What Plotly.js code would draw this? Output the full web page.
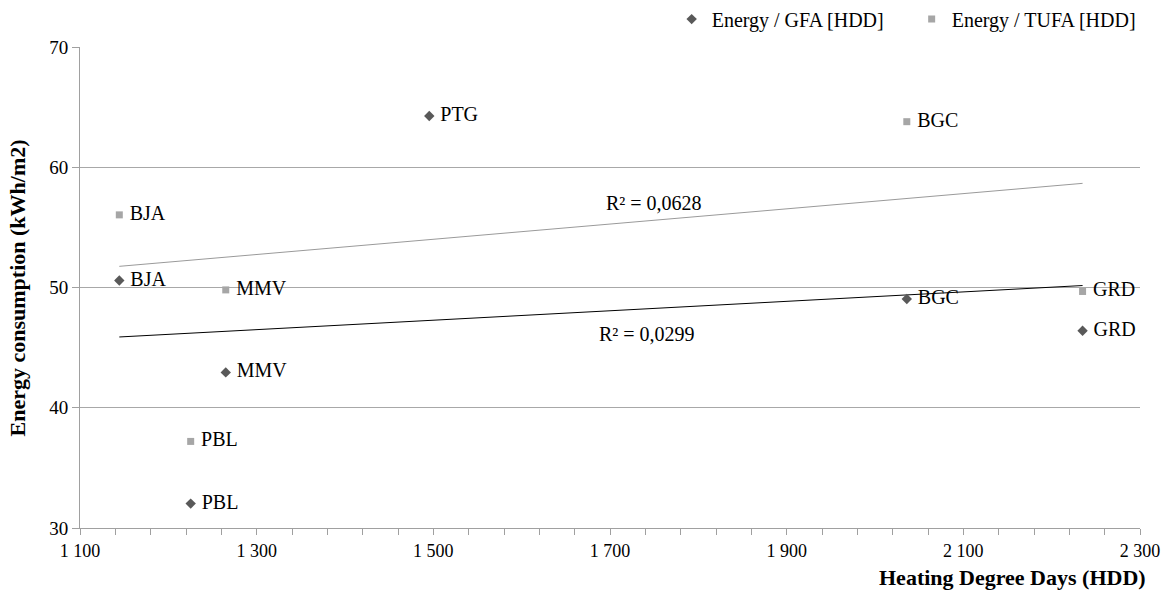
<!DOCTYPE html>
<html>
<head>
<meta charset="utf-8">
<script src="https://cdn.plot.ly/plotly-3.0.1.min.js"></script>
<style>html,body{margin:0;padding:0;background:#fff;}#chart{width:1174px;height:595px;}</style>
</head>
<body>
<div id="chart"></div>
<script>
// ---- data ----
var sites = ["BJA", "PBL", "MMV", "PTG", "BGC", "GRD"];
var hdd = [1144.5, 1225.3, 1265, 1495.4, 2036, 2235];
var energyGFA = [50.58, 32.03, 42.94, 64.26, 49.04, 46.4];
var energyTUFA = [56.04, 37.2, 49.8, 70.1, 63.79, 49.67]; // PTG lies above the axis maximum (hidden)
var r2Labels = ["R² = 0,0299", "R² = 0,0628"];
var yMin = 30, yMax = 70;

function linfit(x, y) {
  var n = x.length, mx = 0, my = 0;
  for (var i = 0; i < n; i++) { mx += x[i]; my += y[i]; }
  mx /= n; my /= n;
  var sxy = 0, sxx = 0;
  for (var j = 0; j < n; j++) { sxy += (x[j]-mx)*(y[j]-my); sxx += (x[j]-mx)*(x[j]-mx); }
  var b = sxy / sxx, a = my - b*mx;
  var x0 = Math.min.apply(null, x), x1 = Math.max.apply(null, x);
  return {x: [x0, x1], y: [a + b*x0, a + b*x1]};
}
function visible(x, y, t) {
  var o = {x: [], y: [], t: []};
  for (var i = 0; i < x.length; i++) {
    if (y[i] >= yMin && y[i] <= yMax) { o.x.push(x[i]); o.y.push(y[i]); o.t.push(t[i]); }
  }
  return o;
}

var fitG = linfit(hdd, energyGFA);
var fitT = linfit(hdd, energyTUFA);
var visG = visible(hdd, energyGFA, sites);
var visT = visible(hdd, energyTUFA, sites);

var FONT = "Liberation Serif";
var cG = "#595959", cT = "#a6a6a6";

var traces = [
  {x: fitG.x, y: fitG.y, mode: "lines", line: {color: "#000000", width: 1}, showlegend: false, hoverinfo: "skip"},
  {x: fitT.x, y: fitT.y, mode: "lines", line: {color: "#9a9a9a", width: 1}, showlegend: false, hoverinfo: "skip"},
  {x: visG.x, y: visG.y, text: visG.t, texttemplate: "\u00a0%{text}", mode: "markers+text", name: "Energy / GFA [HDD]",
   marker: {symbol: "diamond", size: 8, color: cG}, textposition: "middle right",
   textfont: {family: FONT, size: 20, color: "#000"}, cliponaxis: true},
  {x: visT.x, y: visT.y, text: visT.t, texttemplate: "\u00a0%{text}", mode: "markers+text", name: "Energy / TUFA [HDD]",
   marker: {symbol: "square", size: 7, color: cT}, textposition: "middle right",
   textfont: {family: FONT, size: 20, color: "#000"}, cliponaxis: true}
];

var layout = {
  width: 1174, height: 595,
  margin: {l: 80, r: 34, t: 47, b: 66.5, autoexpand: false},
  paper_bgcolor: "#fff", plot_bgcolor: "#fff",
  separators: ", ",
  font: {family: FONT, size: 18, color: "#000"},
  showlegend: true,
  legend: {orientation: "h", x: 1.011, xanchor: "right", y: 1.058, yanchor: "middle",
           entrywidth: 195, entrywidthmode: "pixels",
           font: {family: FONT, size: 20, color: "#000"}, itemwidth: 30, bgcolor: "rgba(0,0,0,0)"},
  xaxis: {range: [1100, 2300], tick0: 1100, dtick: 200, tickformat: ",d",
          showgrid: false, zeroline: false, showline: true, linecolor: "#a0a0a0", linewidth: 1,
          ticks: "outside", ticklen: 6, tickcolor: "#a0a0a0",
          minor: {dtick: 40, tick0: 1100, ticks: "outside", ticklen: 6, tickcolor: "#a0a0a0", showgrid: false},
          tickfont: {family: FONT, size: 18, color: "#000"}, fixedrange: true, automargin: false},
  yaxis: {range: [yMin, yMax], tick0: 30, dtick: 10,
          showgrid: true, gridcolor: "#a8a8a8", gridwidth: 1, zeroline: false,
          showline: true, linecolor: "#a0a0a0", linewidth: 1,
          ticks: "outside", ticklen: 7, tickcolor: "#a0a0a0",
          tickfont: {family: FONT, size: 19, color: "#000"}, fixedrange: true, automargin: false},
  annotations: [
    {x: 1742, y: 46.15, xref: "x", yref: "y", text: r2Labels[0], showarrow: false,
     font: {family: FONT, size: 20, color: "#000"}},
    {x: 1750, y: 57.06, xref: "x", yref: "y", text: r2Labels[1], showarrow: false,
     font: {family: FONT, size: 20, color: "#000"}},
    {x: 1.008, xref: "paper", xanchor: "right", y: -0.103, yref: "paper", yanchor: "middle",
     text: "<b>Heating Degree Days (HDD)</b>", showarrow: false, font: {family: FONT, size: 22, color: "#000"}},
    {x: -0.0585, xref: "paper", xanchor: "center", y: 0.5, yref: "paper", yanchor: "middle", textangle: -90,
     text: "<b>Energy consumption (kWh/m2)</b>", showarrow: false, font: {family: FONT, size: 22, color: "#000"}}
  ]
};

Plotly.newPlot("chart", traces, layout, {displayModeBar: false, staticPlot: true});
</script>
</body>
</html>
